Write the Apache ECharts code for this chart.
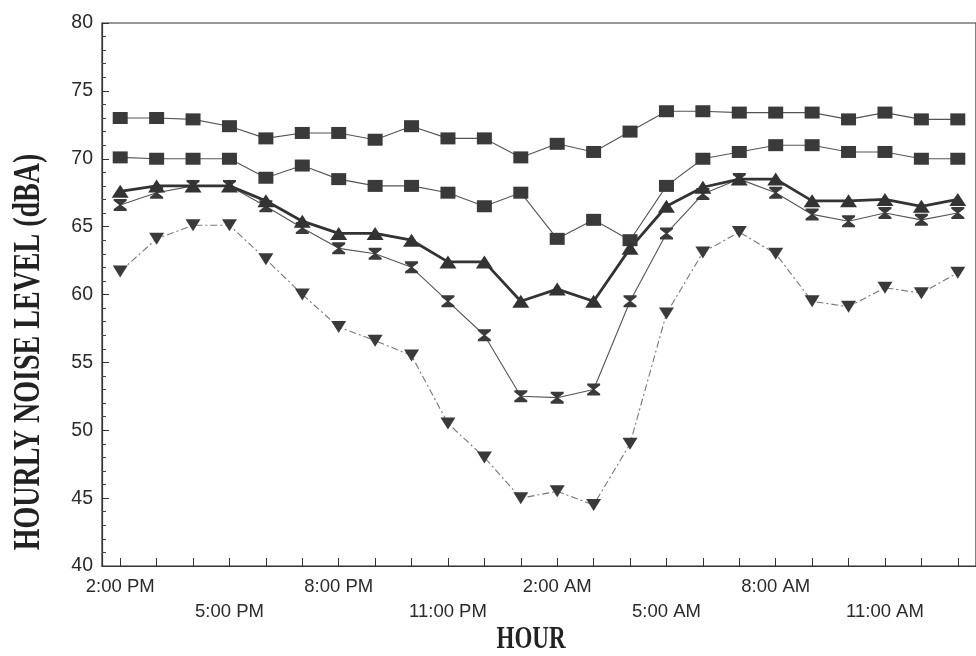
<!DOCTYPE html>
<html>
<head>
<meta charset="utf-8">
<script src="https://cdn.jsdelivr.net/npm/echarts@6/dist/echarts.min.js"></script>
<style>html,body{margin:0;padding:0;background:#fff;}#c{width:976px;height:656px;}</style>
</head>
<body>
<div id="c"></div>
<script>
var hours = ['2:00 PM','3:00 PM','4:00 PM','5:00 PM','6:00 PM','7:00 PM','8:00 PM','9:00 PM','10:00 PM','11:00 PM','12:00 AM','1:00 AM','2:00 AM','3:00 AM','4:00 AM','5:00 AM','6:00 AM','7:00 AM','8:00 AM','9:00 AM','10:00 AM','11:00 AM','12:00 PM','1:00 PM'];
var seriesA = [73.0,73.0,72.9,72.4,71.5,71.9,71.9,71.4,72.4,71.5,71.5,70.1,71.1,70.5,72.0,73.5,73.5,73.4,73.4,73.4,72.9,73.4,72.9,72.9];
var seriesB = [70.1,70.0,70.0,70.0,68.6,69.5,68.5,68.0,68.0,67.5,66.5,67.5,64.1,65.5,64.0,68.0,70.0,70.5,71.0,71.0,70.5,70.5,70.0,70.0];
var seriesC = [67.6,68.0,68.0,68.0,66.9,65.4,64.5,64.5,64.0,62.4,62.4,59.5,60.4,59.5,63.4,66.5,67.9,68.5,68.5,66.9,66.9,67.0,66.5,67.0];
var seriesD = [66.6,67.5,68.0,68.0,66.5,64.9,63.4,63.0,62.0,59.5,57.0,52.5,52.4,53.0,59.5,64.5,67.4,68.5,67.5,65.9,65.4,66.0,65.5,66.0];
var seriesE = [61.7,64.1,65.1,65.1,62.6,60.0,57.6,56.6,55.5,50.5,48.0,45.0,45.5,44.5,49.0,58.6,63.1,64.6,63.0,59.5,59.1,60.5,60.1,61.6];
var yTitle = 'HOURLY NOISE LEVEL (dBA)';
var xTitle = 'HOUR';

var hourglass = 'path://M0,0 L10,0 L10,1.5 L5.8,5 L10,8.5 L10,10 L0,10 L0,8.5 L4.2,5 L0,1.5 Z';

var chart = echarts.init(document.getElementById('c'), null, {renderer:'canvas'});
chart.setOption({
  backgroundColor: '#ffffff',
  animation: false,
  grid: { left: 102, top: 23, width: 885.6, height: 543, show: true, borderColor: '#333', borderWidth: 1.2, backgroundColor: 'transparent' },
  xAxis: {
    type: 'category',
    data: hours,
    boundaryGap: true,
    axisLine: { show: true, lineStyle: { color: '#333', width: 1.2 } },
    axisTick: { show: true, inside: true, alignWithLabel: true, interval: 0, length: 8, lineStyle: { color: '#333' } },
    axisLabel: {
      interval: 2,
      margin: 8,
      fontFamily: 'Liberation Sans',
      fontSize: 18.5,
      lineHeight: 25,
      color: '#2a2a2a',
      formatter: function (v, i) { return (i % 6 === 3) ? ('\n' + v) : v; }
    },
    splitLine: { show: false }
  },
  yAxis: {
    type: 'value',
    min: 40, max: 80, interval: 5,
    axisLine: { show: true, lineStyle: { color: '#333', width: 1.2 } },
    axisTick: { show: true, inside: true, length: 7, lineStyle: { color: '#333' } },
    minorTick: { show: true, splitNumber: 5, length: 4, lineStyle: { color: '#444' } },
    axisLabel: { margin: 9, fontFamily: 'Liberation Sans', fontSize: 19.5, color: '#2a2a2a' },
    splitLine: { show: false }
  },
  series: [
    { type: 'line', data: seriesA, symbol: 'rect', symbolSize: [15, 12],
      itemStyle: { color: '#3a3a3a' }, lineStyle: { color: '#555', width: 1.1 } },
    { type: 'line', data: seriesB, symbol: 'rect', symbolSize: [15, 12],
      itemStyle: { color: '#3a3a3a' }, lineStyle: { color: '#555', width: 1.1 } },
    { type: 'line', data: seriesD, symbol: hourglass, symbolSize: [13, 12],
      itemStyle: { color: '#3a3a3a' }, lineStyle: { color: '#555', width: 1.1 } },
    { type: 'line', data: seriesC, symbol: 'triangle', symbolSize: [17, 13],
      itemStyle: { color: '#333' }, lineStyle: { color: '#333', width: 2.8 } },
    { type: 'line', data: seriesE, symbol: 'triangle', symbolRotate: 180, symbolSize: [15, 12],
      itemStyle: { color: '#3a3a3a' }, lineStyle: { color: '#777', width: 1.1, type: [7, 3, 2, 3] } }
  ],
  graphic: [
    { type: 'text', x: 29, y: 352, rotation: Math.PI / 2, scaleY: 1.35,
      style: { text: yTitle, font: 'bold 28px "Liberation Serif"', fill: '#222',
               textAlign: 'center', textVerticalAlign: 'middle', align: 'center', verticalAlign: 'middle' } },
    { type: 'text', x: 531, y: 640, scaleY: 1.4,
      style: { text: xTitle, font: 'bold 23px "Liberation Serif"', fill: '#222',
               textAlign: 'center', textVerticalAlign: 'middle', align: 'center', verticalAlign: 'middle' } }
  ]
});
</script>
</body>
</html>
